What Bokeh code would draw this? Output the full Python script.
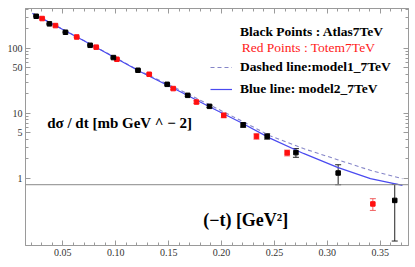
from bokeh.plotting import figure
from bokeh.models import (Range1d, FixedTicker, LinearAxis, LogAxis, Whisker, TeeHead,
                          ColumnDataSource, Label, Span, Legend, LegendItem, NumeralTickFormatter,
                          CustomJSTickFormatter)
from bokeh.embed import file_html
from bokeh.resources import INLINE

# ---- data ----
atlas_t = [0.0248, 0.0373, 0.0525, 0.0758, 0.0978, 0.121, 0.1486, 0.168, 0.1886,
           0.2204, 0.2431, 0.2703, 0.3102, 0.3637]
atlas_y = [310, 237, 176, 111, 71.9, 45.9, 27.9, 18.9, 12.8, 6.65, 4.43, 2.49, 1.21, 0.459]
atlas_err = [5, 4, 3, 2, 1.5, 1.0, 0.7, 0.6, 0.5, 0.56, 0.42, 0.38, 0.41, 0.35]

totem_t = [0.0304, 0.0430, 0.0631, 0.0815, 0.1011, 0.1316, 0.1543, 0.1763, 0.2021,
           0.233, 0.262, 0.343]
totem_y = [286, 223, 149, 104, 67.7, 39.8, 24.0, 14.9, 9.31, 4.43, 2.47, 0.405]
totem_err = [5, 4, 3, 2, 1.5, 1.2, 0.9, 0.7, 0.75, 0.42, 0.25, 0.083]

model1_t = [0.0213, 0.0477, 0.0761, 0.1233, 0.1611, 0.1895, 0.2178, 0.2462, 0.2774,
            0.3096, 0.3407, 0.371]
model1_y = [345, 205, 116, 44.3, 22.6, 13.3, 7.8, 4.5, 2.87, 1.94, 1.33, 0.99]

model2_t = [0.0213, 0.0477, 0.0761, 0.1233, 0.1611, 0.1895, 0.2178, 0.2462, 0.2774,
            0.3096, 0.3407, 0.371]
model2_y = [342, 203, 115, 43.5, 21.4, 12.4, 7.27, 4.12, 2.42, 1.48, 0.99, 0.78]

x_ticks = [0.05, 0.10, 0.15, 0.20, 0.25, 0.30, 0.35]
x_minor = [round(0.02 + 0.01 * i, 2) for i in range(36)]
y_ticks = [1, 5, 10, 50, 100]
y_tick_labels = ["1", "5", "10", "50", "100"]
y_minor = [2, 3, 4, 6, 7, 8, 9, 20, 30, 40, 60, 70, 80, 90, 200, 300, 400]
axis_origin_y = 0.8

SERIF = "Liberation Serif"
GRAY = "#9a9a9a"

p = figure(width=411, height=263, y_axis_type="log",
           x_range=Range1d(0.0147, 0.3767), y_range=Range1d(0.0931, 408),
           output_backend="svg", toolbar_location=None,
           min_border_left=25, min_border_right=3, min_border_top=8, min_border_bottom=18)
p.grid.visible = False
p.outline_line_color = GRAY
p.background_fill_color = "white"
p.border_fill_color = "white"

xt = FixedTicker(ticks=x_ticks, minor_ticks=x_minor)
yt = FixedTicker(ticks=y_ticks, minor_ticks=y_minor)


def style(ax, labels=True):
    ax.axis_line_color = GRAY
    ax.major_tick_line_color = GRAY
    ax.minor_tick_line_color = GRAY
    ax.major_tick_in = 5
    ax.major_tick_out = 0
    ax.minor_tick_in = 3
    ax.minor_tick_out = 0
    ax.major_label_text_font = SERIF
    ax.major_label_text_color = "#333333"
    if labels:
        ax.major_label_text_font_size = "10px"
        ax.major_label_standoff = 3
    else:
        ax.formatter = CustomJSTickFormatter(code="return ''")
        ax.major_label_text_font_size = "1px"
        ax.major_label_standoff = 0


p.xaxis.ticker = xt
p.xaxis.formatter = NumeralTickFormatter(format="0.00")
p.yaxis.ticker = yt
p.yaxis.major_label_overrides = dict(zip(y_ticks, y_tick_labels))
style(p.xaxis[0])
style(p.yaxis[0])

top = LinearAxis(ticker=xt)
style(top, labels=False)
p.add_layout(top, "above")
right = LogAxis(ticker=yt)
style(right, labels=False)
p.add_layout(right, "right")

# horizontal axis line
p.add_layout(Span(location=axis_origin_y, dimension="width", line_color="#888888", line_width=1))

# model curves
r1 = p.line(model1_t, model1_y, line_color="#8585c8", line_width=1.1, line_dash="4 3")
r2 = p.line(model2_t, model2_y, line_color="#4a4af0", line_width=1.2)

# data with error bars
asrc = ColumnDataSource(dict(t=atlas_t, y=atlas_y,
                             up=[a + e for a, e in zip(atlas_y, atlas_err)],
                             lo=[a - e for a, e in zip(atlas_y, atlas_err)]))
tsrc = ColumnDataSource(dict(t=totem_t, y=totem_y,
                             up=[a + e for a, e in zip(totem_y, totem_err)],
                             lo=[a - e for a, e in zip(totem_y, totem_err)]))

p.add_layout(Whisker(source=tsrc, base="t", upper="up", lower="lo", line_color="#f06060",
                     upper_head=TeeHead(size=6, line_color="#f06060"),
                     lower_head=TeeHead(size=6, line_color="#f06060")))
p.add_layout(Whisker(source=asrc, base="t", upper="up", lower="lo", line_color="#222222",
                     upper_head=TeeHead(size=6, line_color="#222222"),
                     lower_head=TeeHead(size=6, line_color="#222222")))
p.scatter("t", "y", source=tsrc, marker="square", size=4.5, color="#ff1010")
p.scatter("t", "y", source=asrc, marker="square", size=4.5, color="black")

# legend
legend = Legend(items=[LegendItem(label="Dashed line:model1_7TeV", renderers=[r1]),
                       LegendItem(label="Blue line: model2_7TeV", renderers=[r2])],
                location=(185, 146), orientation="vertical",
                label_text_font=SERIF, label_text_font_style="bold", label_text_font_size="13.5px",
                label_text_color="black", glyph_width=22, glyph_height=20, label_height=20,
                label_standoff=8, spacing=2, padding=0, margin=0,
                border_line_alpha=0, background_fill_alpha=0)
p.add_layout(legend)

p.add_layout(Label(x=0.2174, y=182.6, text="Black Points : Atlas7TeV", text_font=SERIF,
                   text_font_style="bold", text_font_size="13.5px", text_color="black",
                   text_baseline="middle"))
p.add_layout(Label(x=0.2190, y=103.6, text="Red Points : Totem7TeV", text_font=SERIF,
                   text_font_size="13.5px", text_color="#ff1a1a", text_baseline="middle"))

# axis texts inside the frame
p.add_layout(Label(x=0.0352, y=7.0, text="dσ / dt [mb GeV ^ − 2]", text_font=SERIF,
                   text_font_style="bold", text_font_size="15px", text_color="black",
                   text_baseline="middle"))
p.add_layout(Label(x=0.1826, y=0.226, text="(−t) [GeV²]", text_font=SERIF,
                   text_font_style="bold", text_font_size="18px", text_color="black",
                   text_baseline="middle"))

open("out.html", "w").write(file_html(p, INLINE))
